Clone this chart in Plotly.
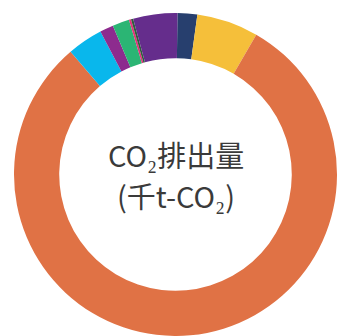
import plotly.graph_objects as go

# CO2 emissions by sector (thousand t-CO2), clockwise from 12 o'clock
sectors = ["エネルギー転換部門", "業務その他部門", "産業部門", "家庭部門", "運輸部門",
           "廃棄物部門", "工業プロセス", "農業", "その他ガス"]
emissions = [19.7, 61.7, 804.0, 35.6, 13.6, 16.8, 2.1, 2.2, 44.2]
colors = ["#273F6E", "#F5BF3A", "#E07245", "#09B7EC", "#8D2B8E",
          "#2BB574", "#E3317B", "#2F5E3C", "#652D8C"]

center_lines = ["CO₂排出量", "(千t-CO₂)"]

W, H = 338, 336
cx, cy, R = 175.5, 174.5, 161.5

fig = go.Figure(go.Pie(
    labels=sectors,
    values=emissions,
    marker=dict(colors=colors, line=dict(width=0)),
    hole=0.72,
    sort=False,
    direction="clockwise",
    rotation=0.7,
    textinfo="none",
    hoverinfo="label+value",
    showlegend=False,
    domain=dict(x=[(cx - R) / W, (cx + R) / W],
                y=[1 - (cy + R) / H, 1 - (cy - R) / H]),
))

for text, ypix in zip(center_lines, [154, 195]):
    fig.add_annotation(
        text=text, x=cx / W, y=1 - ypix / H, xref="paper", yref="paper",
        xanchor="center", yanchor="middle", showarrow=False,
        font=dict(family="Noto Sans CJK JP", size=29, color="#3a3a3a"),
    )

fig.update_layout(
    width=W, height=H,
    margin=dict(l=0, r=0, t=0, b=0),
    paper_bgcolor="white", plot_bgcolor="white",
)

fig.write_html("out.html")
